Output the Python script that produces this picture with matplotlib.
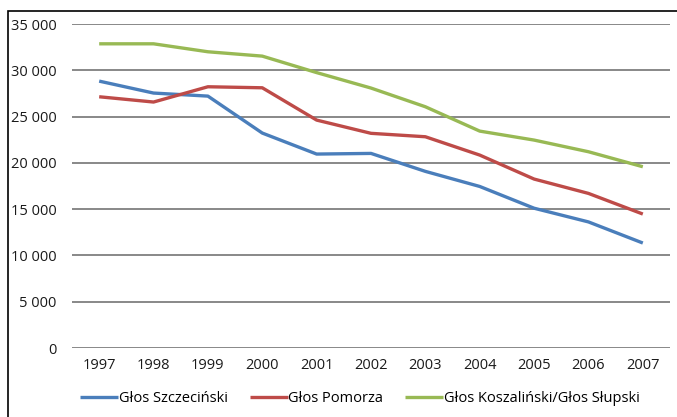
import matplotlib.pyplot as plt
from matplotlib.patches import Rectangle
from matplotlib.ticker import FuncFormatter

years = ["1997", "1998", "1999", "2000", "2001", "2002", "2003", "2004", "2005", "2006", "2007"]
szczecinski = [28830, 27540, 27210, 23220, 20950, 21020, 19080, 17450, 15100, 13620, 11340]
pomorza = [27140, 26570, 28220, 28110, 24620, 23190, 22820, 20840, 18250, 16700, 14470]
koszalinski = [32860, 32860, 32000, 31530, 29750, 28080, 26060, 23430, 22460, 21200, 19580]
series_names = ["Głos Szczeciński", "Głos Pomorza", "Głos Koszaliński/Głos Słupski"]

BLUE = "#4A7EBB"
RED = "#BE4B48"
GREEN = "#98B954"
GRID = "#7F7F7F"

plt.rcParams["font.family"] = ["Open Sans", "DejaVu Sans"]

fig = plt.figure(figsize=(6.77, 4.17), dpi=100)
ax = fig.add_axes([72 / 677, (417 - 348) / 417, (670 - 72) / 677, (348 - 24) / 417])

x = range(len(years))
for vals, color, name in zip([szczecinski, pomorza, koszalinski], [BLUE, RED, GREEN], series_names):
    ax.plot(x, vals, color=color, linewidth=2.4, label=name, solid_capstyle="butt")

ax.set_xlim(-0.5, len(years) - 0.5)
ax.set_ylim(0, 35000)
ax.set_yticks(range(0, 35001, 5000))
ax.yaxis.set_major_formatter(FuncFormatter(lambda v, p: f"{int(v):,}".replace(",", " ")))
ax.set_xticks(list(x))
ax.set_xticklabels(years)
ax.grid(axis="y", color=GRID, linewidth=1.3)
ax.set_axisbelow(True)
for s in ax.spines.values():
    s.set_visible(False)
ax.tick_params(length=0, labelsize=10.5, colors="#1a1a1a")
ax.tick_params(axis="y", pad=11)
ax.tick_params(axis="x", pad=7)

fig.legend(loc="center", bbox_to_anchor=(360 / 677, 1 - 399 / 417), ncol=3, frameon=False,
           fontsize=10.5, handlelength=2.6, handletextpad=0.05, columnspacing=1.5)

fig.patches.append(Rectangle((8 / 677, -0.1), 1.2, 1.1 - 11 / 417, transform=fig.transFigure,
                             fill=False, edgecolor="black", linewidth=1.2))

fig.savefig("out.png", dpi=100)
